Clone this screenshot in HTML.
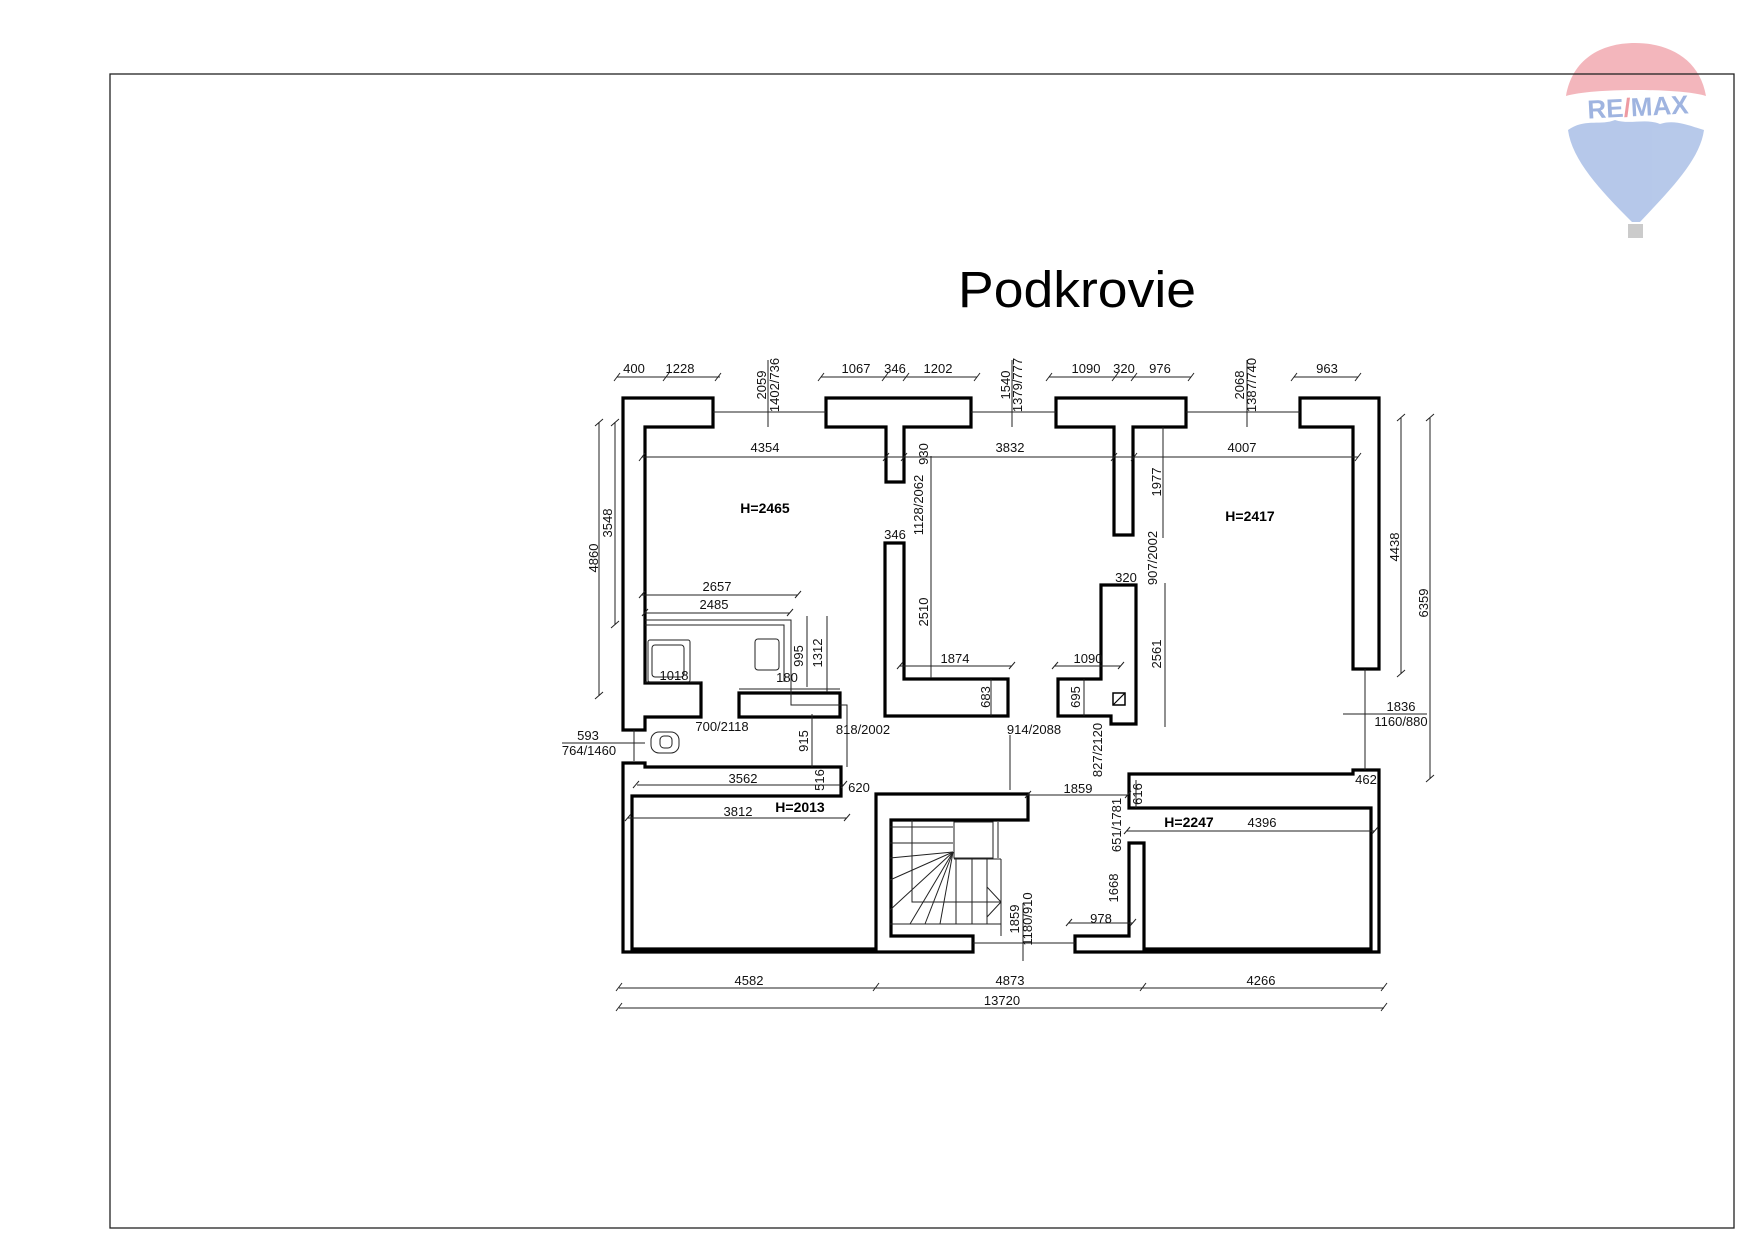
<!DOCTYPE html>
<html><head><meta charset="utf-8"><style>
html,body{margin:0;padding:0;background:#fff;}
svg{display:block}
.w{fill:none;stroke:#000;stroke-width:3.2;stroke-linejoin:miter}
.t{fill:none;stroke:#222;stroke-width:1}
.d text{font-family:"Liberation Sans",sans-serif;font-size:13px;fill:#111;text-anchor:middle}
.b{font-family:"Liberation Sans",sans-serif;font-size:14px;font-weight:bold;fill:#000;text-anchor:middle}
</style></head><body>
<svg width="1754" height="1239" viewBox="0 0 1754 1239" xmlns="http://www.w3.org/2000/svg">
<!-- logo -->
<g opacity="0.5">
<path d="M1566,96 C1572,60 1600,43 1635,43 C1670,43 1700,60 1706,96 C1680,88 1592,88 1566,96 Z" fill="#e8707c"/>
<path d="M1568,130 C1585,118 1600,126 1615,120 C1630,125 1645,118 1660,124 C1675,119 1690,126 1704,130 C1700,160 1670,190 1640,222 L1632,222 C1600,190 1572,160 1568,130 Z" fill="#6f93d6"/>
<rect x="1628" y="224" width="15" height="14" fill="#999"/>
</g>
<text x="1638" y="116" font-family="Liberation Sans,sans-serif" font-size="26" font-weight="bold" fill="#9fb4e0" text-anchor="middle" transform="rotate(-3 1638 108)">RE<tspan fill="#ee9aa2">/</tspan>MAX</text>
<rect x="110" y="74" width="1624" height="1154" fill="none" stroke="#222" stroke-width="1.3"/>
<text x="958" y="307" font-family="Liberation Sans,sans-serif" font-size="51" textLength="238" lengthAdjust="spacingAndGlyphs" fill="#000">Podkrovie</text>

<!-- walls -->
<g class="w">
<polygon points="623,398 713,398 713,427 645,427 645,683 701,683 701,717 645,717 645,730 623,730"/>
<polygon points="826,398 971,398 971,427 904,427 904,482 886,482 886,427 826,427"/>
<polygon points="1056,398 1186,398 1186,427 1133,427 1133,535 1114,535 1114,427 1056,427"/>
<polygon points="1300,398 1379,398 1379,669 1353,669 1353,427 1300,427"/>
<polygon points="885,543 904,543 904,679 1008,679 1008,716 885,716"/>
<polygon points="1101,585 1136,585 1136,724 1111,724 1111,716 1058,716 1058,679 1101,679"/>
<polygon points="739,693 840,693 840,717 739,717"/>
<polygon points="623,763 645,763 645,767 841,767 841,796 632,796 632,949 876,949 876,794 1028,794 1028,820 891,820 891,936 973,936 973,952 623,952"/>
<polygon points="1129,774 1353,774 1353,770 1379,770 1379,952 1075,952 1075,936 1129,936 1129,843 1144,843 1144,949 1371,949 1371,808 1129,808"/>
</g>
<rect x="1113" y="693" width="12" height="12" fill="none" stroke="#000" stroke-width="1.5"/>
<line x1="1113" y1="705" x2="1125" y2="693" stroke="#000" stroke-width="1.2"/>
<!-- bath -->
<g class="t" stroke-width="1.4">
<polyline points="645,620 791,620 791,705 847,705 847,767"/>
<polyline points="645,625 784,625 784,682"/>
<line x1="645" y1="682" x2="701" y2="682"/>
<line x1="739" y1="689" x2="840" y2="689"/>
<rect x="648" y="640" width="42" height="42" rx="2"/>
<rect x="652" y="645" width="32" height="32" rx="3"/>
<rect x="755" y="639" width="24" height="31" rx="3"/>
<rect x="651" y="732" width="28" height="21" rx="8"/>
<rect x="660" y="736" width="12" height="12" rx="4"/>
<line x1="634" y1="730" x2="634" y2="761"/>
</g>
<!-- window thin lines -->
<g class="t">
<line x1="713" y1="412" x2="826" y2="412"/><line x1="971" y1="412" x2="1056" y2="412"/><line x1="1186" y1="412" x2="1300" y2="412"/>
<line x1="973" y1="943" x2="1075" y2="943"/>
</g>
<!-- stairs -->
<g class="t" stroke-width="1.2">
<line x1="890" y1="827" x2="953" y2="827"/><line x1="890" y1="843" x2="953" y2="843"/>
<polyline points="912,820 912,902 1001,902"/>
<rect x="954" y="822" width="39" height="36"/><line x1="998" y1="822" x2="998" y2="858"/>
<line x1="954" y1="859" x2="1001" y2="859"/><line x1="1001" y1="859" x2="1001" y2="936"/>
<line x1="956" y1="859" x2="956" y2="924"/><line x1="972" y1="859" x2="972" y2="924"/><line x1="987" y1="859" x2="987" y2="924"/>
<line x1="890" y1="924" x2="1001" y2="924"/>
<line x1="953" y1="852" x2="890" y2="858"/><line x1="953" y1="852" x2="890" y2="880"/><line x1="953" y1="852" x2="890" y2="910"/>
<line x1="953" y1="852" x2="910" y2="924"/><line x1="953" y1="852" x2="925" y2="924"/><line x1="953" y1="852" x2="940" y2="924"/>
<polyline points="987,887 1001,902 987,917"/>
</g>
<!-- dimension lines -->
<g class="t" stroke-width="0.9">
<line x1="617" y1="377" x2="720" y2="377"/><line x1="821" y1="377" x2="977" y2="377"/><line x1="1049" y1="377" x2="1191" y2="377"/><line x1="1294" y1="377" x2="1358" y2="377"/>
<line x1="768" y1="360" x2="768" y2="427"/><line x1="1012" y1="360" x2="1012" y2="427"/><line x1="1247" y1="360" x2="1247" y2="427"/>
<line x1="642" y1="457" x2="1358" y2="457"/>
<line x1="599" y1="422" x2="599" y2="696"/><line x1="615" y1="422" x2="615" y2="625"/>
<line x1="1401" y1="418" x2="1401" y2="674"/><line x1="1430" y1="418" x2="1430" y2="779"/>
<line x1="931" y1="456" x2="931" y2="678"/>
<line x1="900" y1="666" x2="1012" y2="666"/><line x1="991" y1="679" x2="991" y2="716"/>
<line x1="1163" y1="427" x2="1163" y2="538"/><line x1="1165" y1="583" x2="1165" y2="727"/>
<line x1="1055" y1="666" x2="1121" y2="666"/><line x1="1084" y1="679" x2="1084" y2="716"/>
<line x1="812" y1="714" x2="812" y2="767"/>
<line x1="637" y1="785" x2="844" y2="785"/><line x1="628" y1="818" x2="847" y2="818"/>
<line x1="1028" y1="795" x2="1127" y2="795"/><line x1="1127" y1="831" x2="1375" y2="831"/>
<line x1="1069" y1="923" x2="1133" y2="923"/><line x1="1023" y1="903" x2="1023" y2="961"/>
<line x1="642" y1="595" x2="798" y2="595"/><line x1="645" y1="613" x2="790" y2="613"/>
<line x1="807" y1="616" x2="807" y2="687"/><line x1="827" y1="616" x2="827" y2="692"/>
<line x1="1343" y1="714" x2="1427" y2="714"/><line x1="1365" y1="669" x2="1365" y2="770"/>
<line x1="562" y1="743" x2="645" y2="743"/>
<line x1="619" y1="988" x2="1384" y2="988"/><line x1="619" y1="1008" x2="1384" y2="1008"/>
<line x1="1010" y1="735" x2="1010" y2="790"/><line x1="1136" y1="780" x2="1136" y2="808"/>
</g>
<!-- ticks -->
<g class="t" stroke-width="1">
<path d="M614,381l6,-8M663,381l6,-8M715,381l6,-8M818,381l6,-8M882,381l6,-8M903,381l6,-8M974,381l6,-8M1046,381l6,-8M1112,381l6,-8M1131,381l6,-8M1188,381l6,-8M1291,381l6,-8M1355,381l6,-8"/>
<path d="M639,461l6,-8M883,461l6,-8M901,461l6,-8M1111,461l6,-8M1131,461l6,-8M1355,461l6,-8"/>
<path d="M616,991l6,-8M873,991l6,-8M1140,991l6,-8M1381,991l6,-8M616,1011l6,-8M1381,1011l6,-8"/>
<path d="M595,426l8,-7M595,699l8,-7M611,426l8,-7M611,628l8,-7M1397,421l8,-7M1397,677l8,-7M1426,421l8,-7M1426,782l8,-7"/>
<path d="M639,598l6,-7M795,598l6,-7M642,616l6,-7M787,616l6,-7M633,788l6,-7M841,788l6,-7M625,821l6,-7M844,821l6,-7"/>
<path d="M897,669l6,-7M1009,669l6,-7M1052,669l6,-7M1118,669l6,-7M1125,798l6,-7M1025,798l6,-7M1124,834l6,-7M1372,834l6,-7M1066,926l6,-7M1130,926l6,-7"/>
</g>
<!-- labels -->
<g class="d">
<text x="634" y="373">400</text><text x="680" y="373">1228</text><text x="856" y="373">1067</text><text x="895" y="373">346</text><text x="938" y="373">1202</text>
<text x="1086" y="373">1090</text><text x="1124" y="373">320</text><text x="1160" y="373">976</text><text x="1327" y="373">963</text>
<text x="765" y="452">4354</text><text x="1010" y="452">3832</text><text x="1242" y="452">4007</text>
<text x="717" y="591">2657</text><text x="714" y="609">2485</text>
<text x="674" y="680" font-size="12">1018</text><text x="787" y="682" font-size="12">180</text>
<text x="955" y="663">1874</text><text x="1088" y="663">1090</text>
<text x="895" y="539">346</text><text x="1126" y="582">320</text>
<text x="1034" y="734">914/2088</text><text x="863" y="734">818/2002</text><text x="722" y="731">700/2118</text>
<text x="743" y="783">3562</text><text x="738" y="816">3812</text><text x="859" y="792">620</text>
<text x="1078" y="793">1859</text><text x="1366" y="784">462</text><text x="1262" y="827">4396</text>
<text x="1101" y="923">978</text>
<text x="1401" y="711" font-size="12">1836</text><text x="1401" y="726" font-size="12">1160/880</text>
<text x="588" y="740" font-size="12">593</text><text x="589" y="755" font-size="12">764/1460</text>
<text x="749" y="985">4582</text><text x="1010" y="985">4873</text><text x="1261" y="985">4266</text><text x="1002" y="1005">13720</text>
<g font-size="12">
<text transform="translate(766,385) rotate(-90)">2059</text><text transform="translate(779,385) rotate(-90)">1402/736</text>
<text transform="translate(1010,385) rotate(-90)">1540</text><text transform="translate(1022,385) rotate(-90)">1379/777</text>
<text transform="translate(1244,385) rotate(-90)">2068</text><text transform="translate(1256,385) rotate(-90)">1387/740</text>
</g>
<text transform="translate(598,558) rotate(-90)">4860</text><text transform="translate(612,523) rotate(-90)">3548</text>
<text transform="translate(1399,547) rotate(-90)">4438</text><text transform="translate(1428,603) rotate(-90)">6359</text>
<text transform="translate(928,454) rotate(-90)">930</text><text transform="translate(923,505) rotate(-90)">1128/2062</text>
<text transform="translate(928,612) rotate(-90)">2510</text><text transform="translate(990,697) rotate(-90)">683</text>
<text transform="translate(1161,482) rotate(-90)">1977</text><text transform="translate(1157,558) rotate(-90)">907/2002</text>
<text transform="translate(1161,654) rotate(-90)">2561</text><text transform="translate(1080,697) rotate(-90)">695</text>
<text transform="translate(1102,750) rotate(-90)">827/2120</text><text transform="translate(808,741) rotate(-90)">915</text>
<text transform="translate(824,780) rotate(-90)">516</text><text transform="translate(803,656) rotate(-90)">995</text>
<text transform="translate(822,653) rotate(-90)">1312</text><text transform="translate(1142,794) rotate(-90)">616</text>
<text transform="translate(1121,825) rotate(-90)">651/1781</text><text transform="translate(1118,888) rotate(-90)">1668</text>
<text transform="translate(1019,919) rotate(-90)">1859</text><text transform="translate(1032,919) rotate(-90)">1180/910</text>
</g>
<text class="b" x="765" y="513">H=2465</text><text class="b" x="1250" y="521">H=2417</text>
<text class="b" x="800" y="812">H=2013</text><text class="b" x="1189" y="827">H=2247</text>
</svg>
</body></html>
